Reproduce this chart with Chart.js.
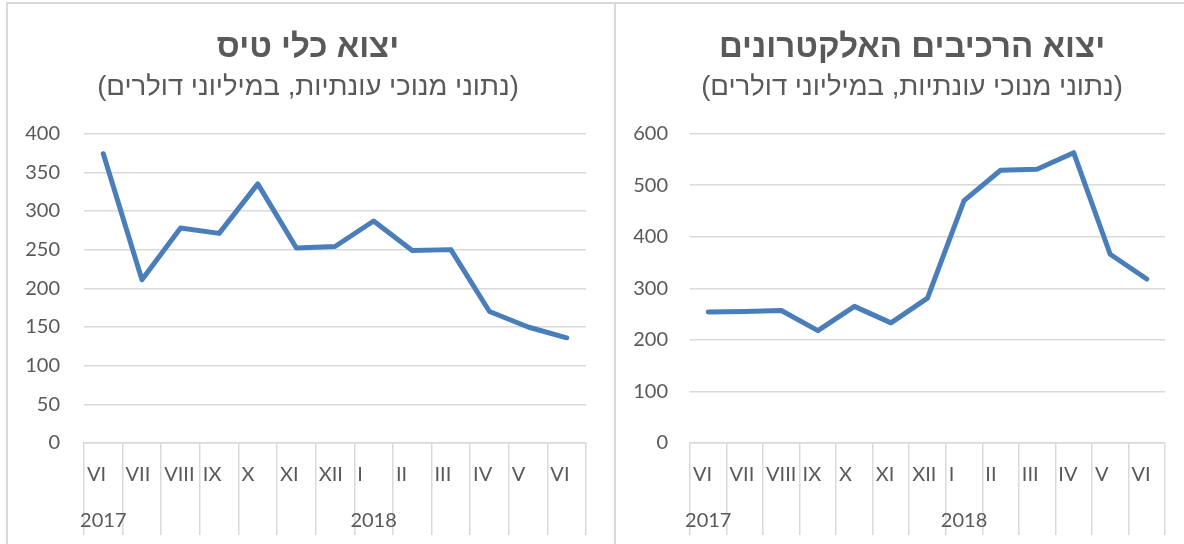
<!DOCTYPE html>
<html lang="he">
<head>
  <meta charset="UTF-8" />
  <title>יצוא כלי טיס ורכיבים אלקטרונים</title>
  <script src="https://cdn.jsdelivr.net/npm/chart.js"></script>
  <style>
    html, body { margin: 0; padding: 0; background: #fff; }
    body { width: 1184px; height: 544px; position: relative; overflow: hidden; }
    .box { position: absolute; top: 0; height: 544px; }
    #leftBox { left: 0; width: 616px; }
    #rightBox { left: 614px; width: 596px; }
    .line { position: absolute; background: #d9d9d9; }
  </style>
</head>
<body>
  <div class="box" id="leftBox"><canvas id="leftChart"></canvas></div>
  <div class="box" id="rightBox"><canvas id="rightChart"></canvas></div>
  <div class="line" style="left:6px; top:2px; width:1178px; height:2px;"></div>
  <div class="line" style="left:6px; top:2px; width:2px; height:542px;"></div>
  <div class="line" style="left:614px; top:2px; width:2px; height:542px;"></div>

  <script>
    // months of the series, June 2017 - June 2018
    const months = ['VI', 'VII', 'VIII', 'IX', 'X', 'XI', 'XII', 'I', 'II', 'III', 'IV', 'V', 'VI'];
    const years = ['2017', '', '', '', '', '', '', '2018', '', '', '', '', ''];

    // aircraft exports, seasonally adjusted, $ million
    const aircraft = [374, 211, 278, 271, 335, 252, 254, 287, 249, 250, 170, 150, 136];
    // electronic components exports, seasonally adjusted, $ million
    const electronics = [254, 255, 257, 218, 265, 233, 281, 470, 529, 531, 563, 366, 318];

    const subtitleText = '(נתוני מנוכי עונתיות, במיליוני דולרים)';
    const grey = '#595959';
    const gridGrey = '#d9d9d9';
    const tickFont = { family: 'Lato', size: 20 };
    const titleFont = 'Liberation Sans';

    function makeChart(id, title, values, yMax, yStep, yWidth, yPad, rightGap, cellW) {
      return new Chart(document.getElementById(id), {
        type: 'line',
        data: {
          labels: months,
          datasets: [{
            data: values,
            borderColor: '#4a7ebb',
            borderWidth: 5,
            pointRadius: 0,
            tension: 0,
            borderCapStyle: 'round',
            borderJoinStyle: 'round'
          }]
        },
        options: {
          responsive: true,
          maintainAspectRatio: false,
          animation: false,
          layout: { padding: 0 },
          plugins: {
            legend: { display: false },
            tooltip: { enabled: false },
            title: {
              display: true,
              text: title,
              color: grey,
              font: { family: titleFont, size: 33, weight: 'bold' },
              padding: { top: 28, bottom: 3 }
            },
            subtitle: {
              display: true,
              text: subtitleText,
              color: grey,
              font: { family: titleFont, size: 27.5 },
              padding: { top: 0, bottom: 30 }
            }
          },
          scales: {
            x: {
              type: 'category',
              weight: 0,
              offset: true,
              grid: { offset: true, drawOnChartArea: false, tickLength: 46, color: gridGrey, lineWidth: 1.5 },
              border: { display: true, color: gridGrey, width: 1.5 },
              ticks: {
                autoSkip: false, maxRotation: 0, color: grey, font: tickFont,
                padding: -26, align: 'start', labelOffset: -cellW / 2 + 3
              },
              afterFit: s => { s.height = 46; }
            },
            x2: {
              type: 'category',
              labels: years,
              position: 'bottom',
              weight: 1,
              offset: true,
              grid: { offset: true, drawOnChartArea: false, tickLength: 46, color: gridGrey, lineWidth: 1.5 },
              border: { display: false },
              ticks: { autoSkip: false, maxRotation: 0, color: grey, font: tickFont, padding: -26 },
              afterFit: s => { s.height = 55; }
            },
            y: {
              min: 0,
              max: yMax,
              ticks: { stepSize: yStep, color: grey, font: tickFont, padding: yPad },
              grid: { color: gridGrey, lineWidth: 1.5, drawTicks: false },
              border: { display: false },
              afterFit: s => { s.width = yWidth; }
            },
            // empty right-hand gap so the titles stay centred on the frame
            gap: {
              type: 'linear',
              position: 'right',
              grid: { display: false },
              border: { display: false },
              ticks: { display: false },
              afterFit: s => { s.width = rightGap; }
            }
          }
        }
      });
    }

    makeChart('leftChart', 'יצוא כלי טיס', aircraft, 400, 50, 84, 24, 30, 38.7);
    makeChart('rightChart', 'יצוא הרכיבים האלקטרונים', electronics, 600, 100, 76, 22, 45, 36.6);
  </script>
</body>
</html>
